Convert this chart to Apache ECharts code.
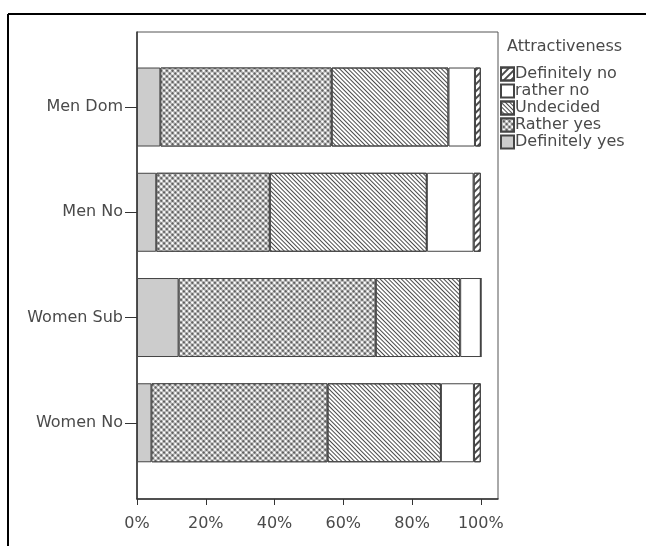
<!DOCTYPE html>
<html>
<head>
<meta charset="utf-8">
<style>html,body{margin:0;padding:0;background:#fff}#c{width:646px;height:546px}</style>
<script src="https://cdn.jsdelivr.net/npm/echarts@6/dist/echarts.min.js"></script>
</head>
<body>
<div id="c"></div>
<script>
var categories = ['Men Dom', 'Men No', 'Women Sub', 'Women No'];
var defYes    = [6.8, 5.6, 12.1, 4.2];
var ratherYes = [49.8, 33.0, 57.3, 51.2];
var undecided = [34.0, 45.7, 24.6, 33.0];
var ratherNo  = [7.7, 13.6, 6.0, 9.6];
var defNo     = [1.7, 2.1, 0, 2.0];
var tickValues = [0, 0.2, 0.4, 0.6, 0.8, 1.0];
var legendOrder = ['Definitely no', 'rather no', 'Undecided', 'Rather yes', 'Definitely yes'];

var FONT = '"DejaVu Sans", sans-serif';
var FS = 16;
var TXT = '#4a4a4a';
function pct(a){ return a.map(function(v){ return v / 100; }); }
var border = { borderColor: '#444', borderWidth: 1 };
function s(name, data, style) {
  return {
    name: name, type: 'bar', stack: 'all', xAxisIndex: 1, yAxisIndex: 1,
    barWidth: 79, data: pct(data),
    itemStyle: Object.assign({}, border, style)
  };
}
var chart = echarts.init(document.getElementById('c'), null, { renderer: 'canvas' });
chart.setOption({
  animation: false,
  backgroundColor: '#fff',
  title: { text: 'Attractiveness', left: 507, top: 39, padding: 0,
    textStyle: { fontFamily: FONT, fontSize: FS, fontWeight: 'normal', color: TXT } },
  legend: {
    data: legendOrder, orient: 'vertical', left: 500, top: 66, icon: 'rect',
    itemWidth: 13, itemHeight: 13, itemGap: 1, padding: 0,
    textStyle: { fontFamily: FONT, fontSize: FS, color: TXT, padding: [0, 0, 0, -4] }
  },
  grid: [
    { left: 137, top: 32, right: 148, bottom: 47, show: true, borderColor: '#555', borderWidth: 1 },
    { left: 137, top: 54.4, right: 148, bottom: 70.6 }
  ],
  xAxis: [
    { type: 'value', gridIndex: 0, min: 0, max: 1.05,
      splitLine: { show: false },
      axisLine: { show: true, lineStyle: { color: '#333', width: 1.5 } },
      axisTick: { show: true, length: 6, customValues: tickValues, lineStyle: { color: '#333' } },
      axisLabel: { customValues: tickValues, margin: 17, fontFamily: FONT, fontSize: FS, color: TXT,
        formatter: function(v){ return Math.round(v * 100) + '%'; } } },
    { type: 'value', gridIndex: 1, min: 0, max: 1.05, show: false, splitLine: { show: false } }
  ],
  yAxis: [
    { type: 'value', gridIndex: 0, min: 0, max: 1,
      splitLine: { show: false }, axisLabel: { show: false }, axisTick: { show: false },
      axisLine: { show: true, lineStyle: { color: '#333', width: 1.5 } } },
    { type: 'category', gridIndex: 1, data: categories, inverse: true,
      axisLine: { show: false },
      axisTick: { show: true, length: 12, alignWithLabel: true, lineStyle: { color: '#333' } },
      axisLabel: { margin: 14, fontFamily: FONT, fontSize: FS, color: TXT } }
  ],
  graphic: [
    { type: 'line', shape: { x1: 8, y1: 14, x2: 646, y2: 14 }, style: { stroke: '#000', lineWidth: 2 } },
    { type: 'line', shape: { x1: 8, y1: 14, x2: 8, y2: 546 }, style: { stroke: '#000', lineWidth: 2 } }
  ],
  series: [
    s('Definitely yes', defYes, { color: '#cccccc' }),
    s('Rather yes', ratherYes, { color: '#ffffff', decal: {
      symbol: 'circle', symbolSize: 0.9, color: '#ffffff', backgroundColor: '#4a4a4a',
      dashArrayX: [4, 0], dashArrayY: [4, 0], rotation: Math.PI / 4 } }),
    s('Undecided', undecided, { color: '#ffffff', decal: {
      symbol: 'rect', symbolSize: 1, color: '#4a4a4a',
      dashArrayX: [1, 0], dashArrayY: [1, 2], rotation: Math.PI / 4 } }),
    s('rather no', ratherNo, { color: '#ffffff' }),
    s('Definitely no', defNo, { color: '#ffffff', decal: {
      symbol: 'rect', symbolSize: 1, color: '#4a4a4a',
      dashArrayX: [1, 0], dashArrayY: [1.5, 2.5], rotation: -Math.PI / 4 } })
  ]
});
</script>
</body>
</html>
